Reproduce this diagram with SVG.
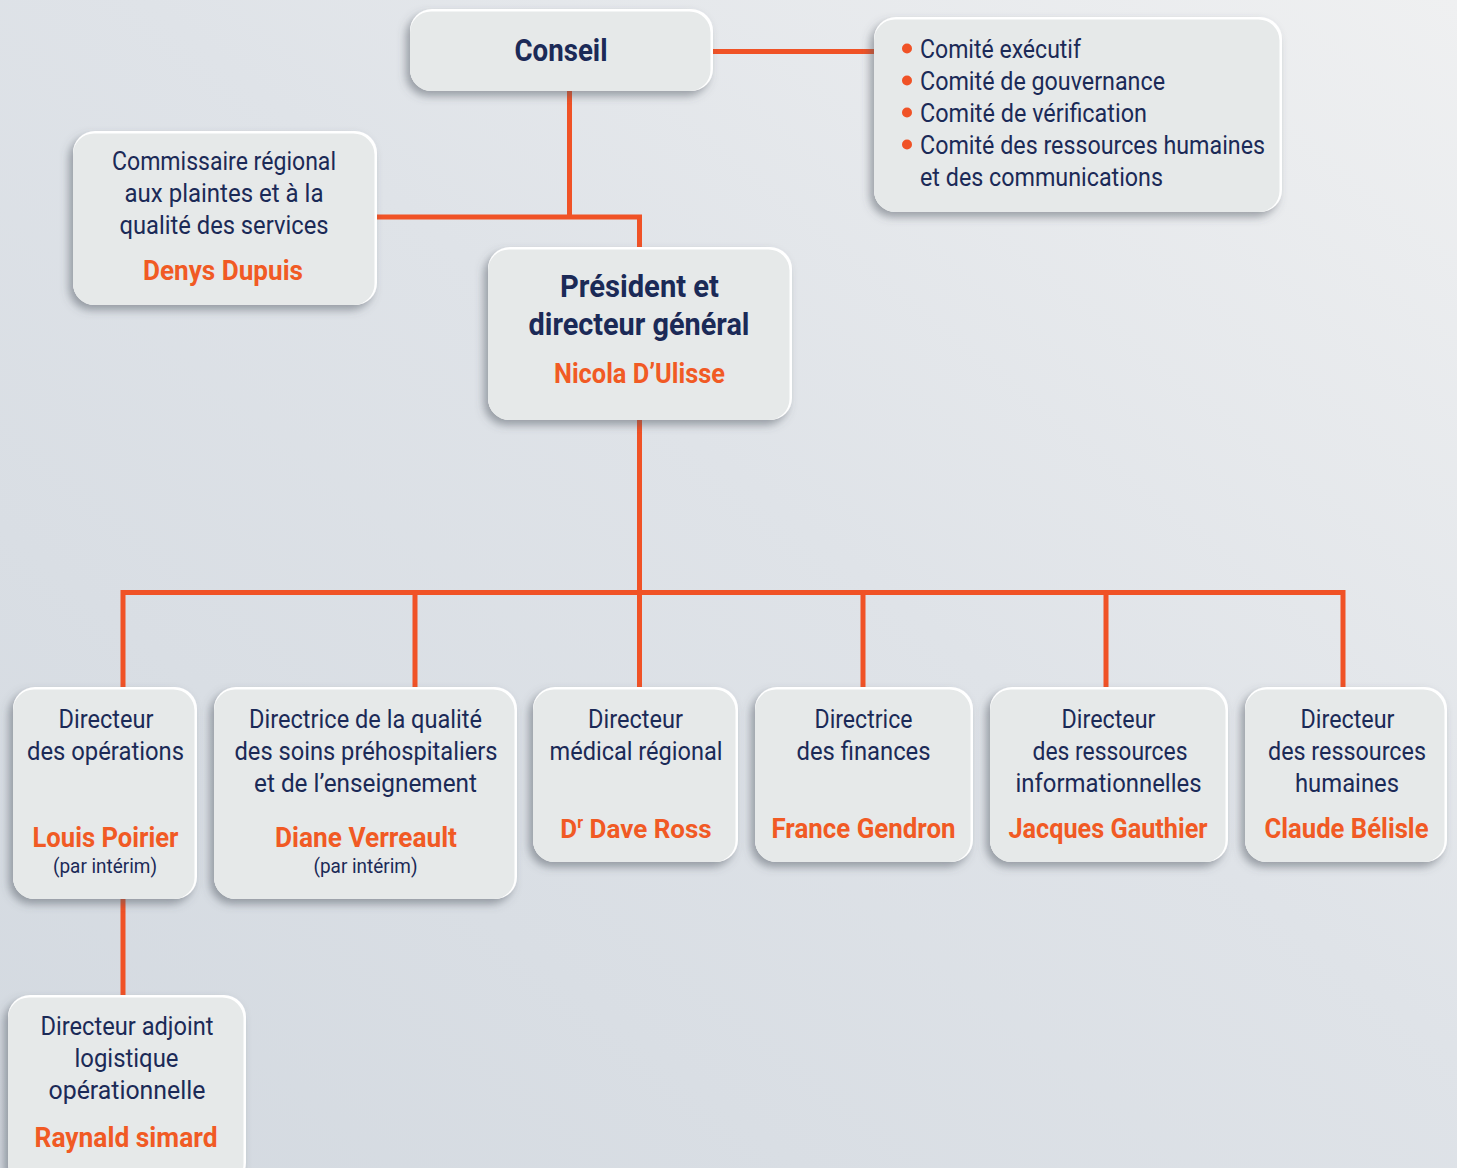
<svg xmlns="http://www.w3.org/2000/svg" width="1457" height="1168" viewBox="0 0 1457 1168">
<defs>
<linearGradient id="bg" x1="0" y1="1" x2="1" y2="0">
<stop offset="0" stop-color="#d3d9e0"/>
<stop offset="0.55" stop-color="#dfe3e8"/>
<stop offset="1" stop-color="#eff0f1"/>
</linearGradient>
<filter id="sh" x="-20%" y="-20%" width="140%" height="150%">
<feDropShadow dx="-4" dy="5" stdDeviation="4.5" flood-color="#4e555e" flood-opacity="0.5"/>
</filter>
<style>
.edge{fill:#ffffff;filter:url(#sh)}
.box{fill:#e6e9e9}
.t{font-family:Roboto,"Liberation Sans",sans-serif;font-size:25px;fill:#1b2a57;text-anchor:middle}
.tl{font-family:Roboto,"Liberation Sans",sans-serif;font-size:25px;fill:#1b2a57}
.n{font-family:Roboto,"Liberation Sans",sans-serif;font-size:28px;font-weight:bold;fill:#f15a24;text-anchor:middle}
.s{font-family:Roboto,"Liberation Sans",sans-serif;font-size:20px;fill:#1b2a57;text-anchor:middle}
.h{font-family:Roboto,"Liberation Sans",sans-serif;font-size:31px;font-weight:bold;fill:#1b2a57;text-anchor:middle}
.ln{fill:none;stroke:#f05226;stroke-width:5}
.dot{fill:#f05226}
</style>
</defs>
<rect x="0" y="0" width="1457" height="1168" fill="url(#bg)"/>

<g id="connectors">
<path class="ln" d="M713 51.5 H874"/>
<path class="ln" d="M569.5 91 V217 M377 217 H639.5 V247"/>
<path class="ln" d="M639.5 420 V687"/>
<path class="ln" d="M123 687 V592.5 H1343 V687"/>
<path class="ln" d="M415 592.5 V687 M863 592.5 V687 M1106 592.5 V687"/>
<path class="ln" d="M123 899 V995"/>
</g>

<g id="conseil">
<rect class="edge" x="410" y="9" width="303" height="82" rx="22"/>
<rect class="box" x="410" y="11.5" width="300.5" height="79.5" rx="21"/>
<text class="h" x="561" y="61" style="font-size:32px" textLength="93" lengthAdjust="spacingAndGlyphs">Conseil</text>
</g>

<g id="comites">
<rect class="edge" x="874" y="17" width="408" height="195" rx="22"/>
<rect class="box" x="874" y="19.5" width="405.5" height="192.5" rx="21"/>
<circle class="dot" cx="907" cy="48.5" r="5"/>
<circle class="dot" cx="907" cy="80.5" r="5"/>
<circle class="dot" cx="907" cy="112.5" r="5"/>
<circle class="dot" cx="907" cy="144.5" r="5"/>
<text class="tl" x="920" y="58" textLength="161" lengthAdjust="spacingAndGlyphs">Comité exécutif</text>
<text class="tl" x="920" y="90" textLength="245" lengthAdjust="spacingAndGlyphs">Comité de gouvernance</text>
<text class="tl" x="920" y="122" textLength="227" lengthAdjust="spacingAndGlyphs">Comité de vérification</text>
<text class="tl" x="920" y="154" textLength="345" lengthAdjust="spacingAndGlyphs">Comité des ressources humaines</text>
<text class="tl" x="920" y="186" textLength="243" lengthAdjust="spacingAndGlyphs">et des communications</text>
</g>

<g id="commissaire">
<rect class="edge" x="73" y="131" width="304" height="174" rx="22"/>
<rect class="box" x="73" y="133.5" width="301.5" height="171.5" rx="21"/>
<text class="t" x="224" y="170" textLength="224" lengthAdjust="spacingAndGlyphs">Commissaire régional</text>
<text class="t" x="224" y="202" textLength="199" lengthAdjust="spacingAndGlyphs">aux plaintes et à la</text>
<text class="t" x="224" y="234" textLength="209" lengthAdjust="spacingAndGlyphs">qualité des services</text>
<text class="n" x="223" y="280" textLength="160" lengthAdjust="spacingAndGlyphs">Denys Dupuis</text>
</g>

<g id="president">
<rect class="edge" x="488" y="247" width="304" height="173" rx="22"/>
<rect class="box" x="488" y="249.5" width="301.5" height="170.5" rx="21"/>
<text class="h" x="639.5" y="297" textLength="159" lengthAdjust="spacingAndGlyphs">Président et</text>
<text class="h" x="639" y="335" textLength="221" lengthAdjust="spacingAndGlyphs">directeur général</text>
<text class="n" x="639.5" y="383" textLength="171" lengthAdjust="spacingAndGlyphs">Nicola D’Ulisse</text>
</g>

<g id="operations">
<rect class="edge" x="13" y="687" width="184" height="212" rx="22"/>
<rect class="box" x="13" y="689.5" width="181.5" height="209.5" rx="21"/>
<text class="t" x="106" y="728" textLength="95" lengthAdjust="spacingAndGlyphs">Directeur</text>
<text class="t" x="105.5" y="760" textLength="157" lengthAdjust="spacingAndGlyphs">des opérations</text>
<text class="n" x="105.5" y="847" textLength="146" lengthAdjust="spacingAndGlyphs">Louis Poirier</text>
<text class="s" x="105" y="873" textLength="104" lengthAdjust="spacingAndGlyphs">(par intérim)</text>
</g>

<g id="qualite">
<rect class="edge" x="214" y="687" width="303" height="212" rx="22"/>
<rect class="box" x="214" y="689.5" width="300.5" height="209.5" rx="21"/>
<text class="t" x="365.5" y="728" textLength="233" lengthAdjust="spacingAndGlyphs">Directrice de la qualité</text>
<text class="t" x="366" y="760" textLength="263" lengthAdjust="spacingAndGlyphs">des soins préhospitaliers</text>
<text class="t" x="365.5" y="792" textLength="223" lengthAdjust="spacingAndGlyphs">et de l’enseignement</text>
<text class="n" x="366" y="847" textLength="182" lengthAdjust="spacingAndGlyphs">Diane Verreault</text>
<text class="s" x="365.5" y="873" textLength="104" lengthAdjust="spacingAndGlyphs">(par intérim)</text>
</g>

<g id="medical">
<rect class="edge" x="533" y="687" width="205" height="175" rx="22"/>
<rect class="box" x="533" y="689.5" width="202.5" height="172.5" rx="21"/>
<text class="t" x="635.5" y="728" textLength="95" lengthAdjust="spacingAndGlyphs">Directeur</text>
<text class="t" x="636" y="760" textLength="173" lengthAdjust="spacingAndGlyphs">médical régional</text>
<text class="n" x="636" y="838" style="font-size:26px">D<tspan style="font-size:16px" dy="-10">r</tspan><tspan dy="10"> Dave Ross</tspan></text>
</g>

<g id="finances">
<rect class="edge" x="755" y="687" width="218" height="175" rx="22"/>
<rect class="box" x="755" y="689.5" width="215.5" height="172.5" rx="21"/>
<text class="t" x="863.5" y="728" textLength="98" lengthAdjust="spacingAndGlyphs">Directrice</text>
<text class="t" x="863.5" y="760" textLength="134" lengthAdjust="spacingAndGlyphs">des finances</text>
<text class="n" x="863.5" y="838" textLength="184" lengthAdjust="spacingAndGlyphs">France Gendron</text>
</g>

<g id="ri">
<rect class="edge" x="990" y="687" width="238" height="175" rx="22"/>
<rect class="box" x="990" y="689.5" width="235.5" height="172.5" rx="21"/>
<text class="t" x="1108.5" y="728" textLength="94" lengthAdjust="spacingAndGlyphs">Directeur</text>
<text class="t" x="1110" y="760" textLength="155" lengthAdjust="spacingAndGlyphs">des ressources</text>
<text class="t" x="1108.5" y="792" textLength="186" lengthAdjust="spacingAndGlyphs">informationnelles</text>
<text class="n" x="1108" y="838" textLength="199" lengthAdjust="spacingAndGlyphs">Jacques Gauthier</text>
</g>

<g id="rh">
<rect class="edge" x="1245" y="687" width="202" height="175" rx="22"/>
<rect class="box" x="1245" y="689.5" width="199.5" height="172.5" rx="21"/>
<text class="t" x="1347.5" y="728" textLength="94" lengthAdjust="spacingAndGlyphs">Directeur</text>
<text class="t" x="1347" y="760" textLength="158" lengthAdjust="spacingAndGlyphs">des ressources</text>
<text class="t" x="1347" y="792" textLength="104" lengthAdjust="spacingAndGlyphs">humaines</text>
<text class="n" x="1346.5" y="838" textLength="164" lengthAdjust="spacingAndGlyphs">Claude Bélisle</text>
</g>

<g id="logistique">
<rect class="edge" x="8" y="995" width="238" height="190" rx="22"/>
<rect class="box" x="8" y="997.5" width="235.5" height="187.5" rx="21"/>
<text class="t" x="127" y="1035" textLength="173" lengthAdjust="spacingAndGlyphs">Directeur adjoint</text>
<text class="t" x="126.5" y="1067" textLength="104" lengthAdjust="spacingAndGlyphs">logistique</text>
<text class="t" x="127" y="1099" textLength="157" lengthAdjust="spacingAndGlyphs">opérationnelle</text>
<text class="n" x="126" y="1147" textLength="183" lengthAdjust="spacingAndGlyphs">Raynald simard</text>
</g>
</svg>
